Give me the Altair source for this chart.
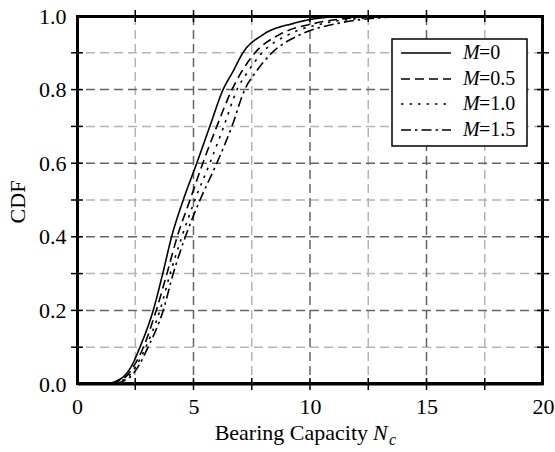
import altair as alt
import pandas as pd

# CDF levels and bearing capacity values
cdf_levels = [0.0, 0.01, 0.02, 0.05, 0.1, 0.2, 0.3, 0.4, 0.5, 0.6, 0.7, 0.8, 0.85, 0.9, 0.95, 0.98, 0.995, 1.0]
nc_m0 = [1.3, 1.75, 2.0, 2.35, 2.7, 3.27, 3.68, 4.06, 4.56, 5.14, 5.7, 6.27, 6.7, 7.12, 8.0, 9.3, 10.5, 12.0]
nc_m05 = [1.5, 1.85, 2.1, 2.45, 2.85, 3.4, 3.86, 4.3, 4.85, 5.4, 6.0, 6.65, 7.08, 7.64, 8.7, 10.2, 11.8, 13.5]
nc_m10 = [1.6, 1.95, 2.2, 2.55, 2.95, 3.56, 4.0, 4.5, 5.06, 5.7, 6.3, 6.87, 7.35, 7.94, 9.1, 10.6, 12.5, 14.5]
nc_m15 = [1.7, 2.05, 2.3, 2.65, 3.05, 3.7, 4.13, 4.65, 5.28, 6.0, 6.65, 7.2, 7.7, 8.37, 9.6, 11.2, 13.0, 15.5]

series_names = ["M=0", "M=0.5", "M=1.0", "M=1.5"]
series_values = [nc_m0, nc_m05, nc_m10, nc_m15]
series_labels = ["=0", "=0.5", "=1.0", "=1.5"]
series_dashes = [[1, 0], [9, 5], [2.5, 6], [10, 4, 2.5, 4]]

x_ticks = [0, 5, 10, 15, 20]
y_ticks = [0.0, 0.2, 0.4, 0.6, 0.8, 1.0]
x_major_grid = [5, 10, 15]
x_minor_grid = [2.5, 7.5, 12.5, 17.5]
y_major_grid = [0.2, 0.4, 0.6, 0.8]
y_minor_grid = [0.1, 0.3, 0.5, 0.7, 0.9]
x_minor_ticks = [2.5, 5, 7.5, 10, 12.5, 15, 17.5]
y_minor_ticks = [0.1, 0.2, 0.3, 0.4, 0.5, 0.6, 0.7, 0.8, 0.9]

W, H = 466, 368
TICK_PX = 6
FONT = "Liberation Serif"

xs = alt.Scale(domain=[0, 20], nice=False)
ys = alt.Scale(domain=[0, 1], nice=False)
xax = alt.Axis(values=x_ticks, format="d", title=None, grid=False, ticks=False,
               domain=True, domainColor="black", domainWidth=2, labelFlush=False,
               labelFont=FONT, labelFontSize=22, labelColor="black",
               labelPadding=12, tickSize=0)
yax = alt.Axis(values=y_ticks, format=".1f", title=None, grid=False, ticks=False,
               domain=True, domainColor="black", domainWidth=2, labelFlush=False,
               labelFont=FONT, labelFontSize=22, labelColor="black",
               labelPadding=11, tickSize=0)

rows = []
for name, vals in zip(series_names, series_values):
    for i, (c, v) in enumerate(zip(cdf_levels, vals)):
        rows.append({"series": name, "nc": v, "cdf": c, "order": i})
df = pd.DataFrame(rows)

one = pd.DataFrame({"a": [0]})
layers = []

# plot frame: white box with black border, drawn first (same pattern as the legend box)
layers.append(alt.Chart(one).mark_rect(
    fill="white", stroke="black", strokeWidth=2).encode(
    x=alt.value(1), x2=alt.value(W - 1), y=alt.value(1), y2=alt.value(H - 1)))

# grid
def vgrid(vals, color):
    return alt.Chart(pd.DataFrame({"v": vals})).mark_rule(
        color=color, strokeWidth=1.5, strokeDash=[9, 5]
    ).encode(x=alt.X("v:Q", scale=xs, axis=xax))

def hgrid(vals, color):
    return alt.Chart(pd.DataFrame({"v": vals})).mark_rule(
        color=color, strokeWidth=1.5, strokeDash=[9, 5]
    ).encode(y=alt.Y("v:Q", scale=ys, axis=yax))

layers += [vgrid(x_minor_grid, "#b4b4b4"), hgrid(y_minor_grid, "#b4b4b4"),
           vgrid(x_major_grid, "#646464"), hgrid(y_major_grid, "#646464")]

# curves
lines = alt.Chart(df).mark_line(color="black", strokeWidth=1.6, interpolate="monotone").encode(
    x=alt.X("nc:Q", scale=xs, axis=xax),
    y=alt.Y("cdf:Q", scale=ys, axis=yax),
    order="order:Q",
    strokeDash=alt.StrokeDash("series:N", scale=alt.Scale(domain=series_names, range=series_dashes),
                              legend=None),
)
layers.append(lines)

# inward ticks as small tick marks
tx = pd.DataFrame({"v": x_minor_ticks})
ty = pd.DataFrame({"v": y_minor_ticks})
layers.append(alt.Chart(tx).mark_tick(color="black", thickness=1.5, size=2 * TICK_PX, opacity=1).encode(
    x=alt.X("v:Q", scale=xs, axis=xax), y=alt.value(0)))
layers.append(alt.Chart(tx).mark_tick(color="black", thickness=1.5, size=2 * TICK_PX, opacity=1).encode(
    x=alt.X("v:Q", scale=xs, axis=xax), y=alt.value(H)))
layers.append(alt.Chart(ty).mark_tick(color="black", thickness=1.5, size=2 * TICK_PX, opacity=1).encode(
    y=alt.Y("v:Q", scale=ys, axis=yax), x=alt.value(0)))
layers.append(alt.Chart(ty).mark_tick(color="black", thickness=1.5, size=2 * TICK_PX, opacity=1).encode(
    y=alt.Y("v:Q", scale=ys, axis=yax), x=alt.value(W)))

# legend box
lx0, lx1, ly0, ly1 = 315, 450, 23, 130
layers.append(alt.Chart(one).mark_rect(
    fill="white", stroke="black", strokeWidth=1.5).encode(
    x=alt.value(lx0), x2=alt.value(lx1), y=alt.value(ly0), y2=alt.value(ly1)))
entry_y = [37, 63, 88, 114]
for ey, lab, dash in zip(entry_y, series_labels, series_dashes):
    layers.append(alt.Chart(one).mark_rule(
        color="black", strokeWidth=1.6, strokeDash=dash).encode(
        x=alt.value(324), x2=alt.value(374), y=alt.value(ey)))
    layers.append(alt.Chart(pd.DataFrame({"t": ["M"]})).mark_text(
        font=FONT, fontSize=20, fontStyle="italic", align="left", baseline="middle", color="black").encode(
        text="t:N", x=alt.value(386), y=alt.value(ey)))
    layers.append(alt.Chart(pd.DataFrame({"t": [lab]})).mark_text(
        font=FONT, fontSize=20, align="left", baseline="middle", color="black").encode(
        text="t:N", x=alt.value(402), y=alt.value(ey)))

# axis titles
def txt(s, x, y, **kw):
    params = dict(font=FONT, fontSize=22, color="black")
    params.update(kw)
    return alt.Chart(pd.DataFrame({"t": [s]})).mark_text(**params).encode(
        text="t:N", x=alt.value(x), y=alt.value(y))

layers.append(txt("Bearing Capacity", 291, 424, align="right", baseline="alphabetic"))
layers.append(txt("N", 296, 424, align="left", baseline="alphabetic", fontStyle="italic"))
layers.append(txt("c", 312, 429, align="left", baseline="alphabetic", fontStyle="italic", fontSize=16))
layers.append(txt("CDF", -59, 186, align="center", baseline="middle", angle=270))

chart = alt.layer(*layers).properties(
    width=W, height=H,
    autosize=alt.AutoSizeParams(type="none"),
    padding={"left": 77, "top": 16, "right": 12, "bottom": 68},
    background="white",
).configure_view(stroke="black", strokeWidth=2)

chart.save("out.html", embed_options={"renderer": "svg", "actions": False})
